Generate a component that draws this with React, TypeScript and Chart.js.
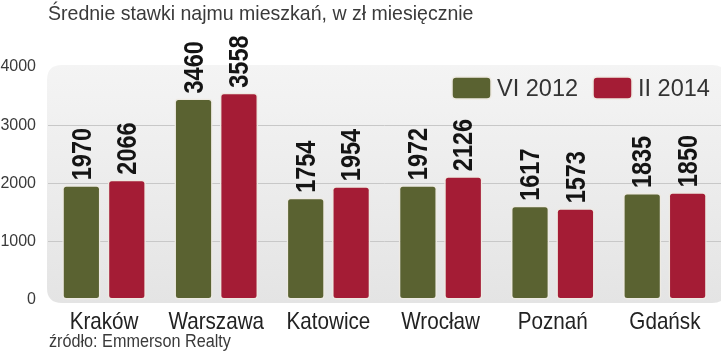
import React, { useEffect, useRef } from "react";
import { Chart, registerables } from "chart.js";

Chart.register(...registerables);

const title = "Średnie stawki najmu mieszkań, w zł miesięcznie";
const source = "źródło: Emmerson Realty";
const categories = ["Kraków", "Warszawa", "Katowice", "Wrocław", "Poznań", "Gdańsk"];
const seriesLabels = ["VI 2012", "II 2014"];
const values2012 = [1970, 3460, 1754, 1972, 1617, 1835];
const values2014 = [2066, 3558, 1954, 2126, 1573, 1850];
const yMin = 0;
const yMax = 4000;
const yStep = 1000;

const GREEN = "#5a6231";
const RED = "#a41c35";
const FONT = '"Liberation Sans", Arial, sans-serif';

function drawText(
  ctx: CanvasRenderingContext2D,
  text: string,
  x: number,
  y: number,
  font: string,
  color: string,
  align: CanvasTextAlign,
  sx: number
) {
  ctx.save();
  ctx.font = font;
  ctx.fillStyle = color;
  ctx.textBaseline = "alphabetic";
  ctx.textAlign = align;
  ctx.translate(x, y);
  ctx.scale(sx, 1);
  ctx.fillText(text, 0, 0);
  ctx.restore();
}

function roundRect(ctx: CanvasRenderingContext2D, x: number, y: number, w: number, h: number, r: number) {
  ctx.beginPath();
  ctx.moveTo(x + r, y);
  ctx.lineTo(x + w - r, y);
  ctx.quadraticCurveTo(x + w, y, x + w, y + r);
  ctx.lineTo(x + w, y + h - r);
  ctx.quadraticCurveTo(x + w, y + h, x + w - r, y + h);
  ctx.lineTo(x + r, y + h);
  ctx.quadraticCurveTo(x, y + h, x, y + h - r);
  ctx.lineTo(x, y + r);
  ctx.quadraticCurveTo(x, y, x + r, y);
  ctx.closePath();
}

const bgPlugin = {
  id: "bgPlugin",
  beforeDraw(chart: any) {
    const { ctx, chartArea } = chart;
    const x = chartArea.left - 1;
    const y = chartArea.top - 2;
    const w = chartArea.right + 6 - x;
    const h = chartArea.bottom + 3 - y;
    ctx.save();
    const g = ctx.createLinearGradient(0, y, 0, y + h);
    g.addColorStop(0, "#f4f4f4");
    g.addColorStop(1, "#e4e4e4");
    ctx.fillStyle = g;
    roundRect(ctx, x, y, w, h, 15);
    ctx.fill();
    ctx.restore();
  },
};

const textPlugin = {
  id: "textPlugin",
  afterDraw(chart: any) {
    const { ctx, chartArea } = chart;
    // title
    drawText(ctx, title, 48, 20, `21px ${FONT}`, "#3a3a3a", "left", 0.93);
    // source
    drawText(ctx, source, 49, 347, `18px ${FONT}`, "#3a3a3a", "left", 0.9);
    // category labels
    const xs = chart.scales.x;
    categories.forEach((c, i) => {
      drawText(ctx, c, xs.getPixelForTick(i), 329, `24px ${FONT}`, "#222", "center", 0.86);
    });
    // legend
    const colors = [GREEN, RED];
    const boxX = [chartArea.right - 269, chartArea.right - 128];
    seriesLabels.forEach((lab, i) => {
      ctx.save();
      ctx.fillStyle = colors[i];
      ctx.strokeStyle = "#eeeae2";
      ctx.lineWidth = 1.5;
      roundRect(ctx, boxX[i], 77, 39, 22, 4);
      ctx.fill();
      ctx.stroke();
      ctx.restore();
      drawText(ctx, lab, boxX[i] + 45, 96, `24px ${FONT}`, "#333", "left", 0.98);
    });
    // value labels
    chart.data.datasets.forEach((ds: any, di: number) => {
      const meta = chart.getDatasetMeta(di);
      meta.data.forEach((el: any, i: number) => {
        const v = ds.data[i];
        ctx.save();
        ctx.translate(el.x - 0.5, el.y - 5);
        ctx.rotate(-Math.PI / 2);
        ctx.scale(0.87, 1);
        ctx.font = `bold 27px ${FONT}`;
        ctx.fillStyle = "#141414";
        ctx.textAlign = "left";
        ctx.textBaseline = "alphabetic";
        ctx.fillText(String(v), 0, 9.7);
        ctx.restore();
      });
    });
  },
};

export default function App() {
  const ref = useRef<HTMLCanvasElement | null>(null);
  useEffect(() => {
    if (!ref.current) return;
    const chart = new Chart(ref.current, {
      type: "bar",
      data: {
        labels: categories,
        datasets: [
          {
            label: seriesLabels[0],
            data: values2012,
            backgroundColor: GREEN,
            borderColor: "#eeeae2",
            borderWidth: 1.5,
            borderRadius: 4,
            borderSkipped: false,
            categoryPercentage: 0.81,
            barPercentage: 0.84,
          },
          {
            label: seriesLabels[1],
            data: values2014,
            backgroundColor: RED,
            borderColor: "#eeeae2",
            borderWidth: 1.5,
            borderRadius: 4,
            borderSkipped: false,
            categoryPercentage: 0.81,
            barPercentage: 0.84,
          },
        ],
      },
      options: {
        responsive: false,
        animation: false,
        devicePixelRatio: 1,
        layout: { padding: { top: 67, bottom: 30, left: 0, right: 0 } },
        plugins: {
          legend: { display: false },
          tooltip: { enabled: false },
          title: { display: false },
        },
        scales: {
          x: {
            grid: { display: false },
            border: { display: false },
            ticks: { display: false },
            afterFit: (s: any) => {
              s.height = 25;
            },
          },
          y: {
            min: yMin,
            max: yMax,
            border: { display: false },
            grid: {
              drawTicks: false,
              color: (c: any) =>
                c.tick && (c.tick.value === yMin || c.tick.value === yMax) ? "rgba(0,0,0,0)" : "#c8c8c8",
              lineWidth: 1,
            },
            ticks: {
              stepSize: yStep,
              padding: 12,
              color: "#3a3a3a",
              font: { family: FONT, size: 16 },
              callback: (v: any) => String(v),
            },
            afterFit: (s: any) => {
              s.width = 48;
            },
          },
        },
      },
      plugins: [bgPlugin, textPlugin],
    });
    return () => chart.destroy();
  }, []);
  return (
    <div style={{ position: "absolute", left: 0, top: 0, width: 721, height: 355, background: "#fff" }}>
      <canvas ref={ref} width={721} height={355} style={{ display: "block" }} />
    </div>
  );
}
